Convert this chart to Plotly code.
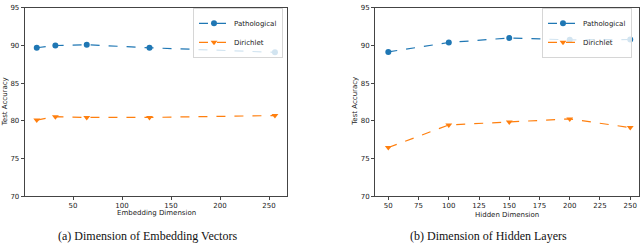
import plotly.graph_objects as go

# Data
emb_dims = [13, 32, 64, 128, 256]
emb_patho = [89.7, 90.0, 90.1, 89.7, 89.1]
emb_diri = [80.1, 80.55, 80.45, 80.45, 80.7]

hid_dims = [50, 100, 150, 200, 250]
hid_patho = [89.15, 90.4, 91.0, 90.75, 90.8]
hid_diri = [76.45, 79.45, 79.85, 80.25, 79.1]

yticks = [70, 75, 80, 85, 90, 95]
emb_xticks = [50, 100, 150, 200, 250]
hid_xticks = [50, 75, 100, 125, 150, 175, 200, 225, 250]

BLUE = "#1f77b4"
ORANGE = "#ff7f0e"
W, H = 640, 248

fig = go.Figure()

def add_series(x, y, name, color, symbol, xa, ya, legend, show):
    fig.add_trace(go.Scatter(
        x=x, y=y, name=name, mode="lines+markers",
        line=dict(color=color, width=1.2, dash="dash"),
        marker=dict(color=color, symbol=symbol, size=6),
        xaxis=xa, yaxis=ya, legend=legend, showlegend=show))

add_series(emb_dims, emb_patho, "Pathological", BLUE, "circle", "x", "y", "legend", True)
add_series(emb_dims, emb_diri, "Dirichlet", ORANGE, "triangle-down", "x", "y", "legend", True)
add_series(hid_dims, hid_patho, "Pathological", BLUE, "circle", "x2", "y2", "legend2", True)
add_series(hid_dims, hid_diri, "Dirichlet", ORANGE, "triangle-down", "x2", "y2", "legend2", True)

ydom = [1 - 198.5 / H, 1 - 4 / H]
axis_common = dict(showgrid=False, zeroline=False, showline=True, linecolor="#444",
                   linewidth=1, mirror=True, ticks="outside", ticklen=3, tickwidth=1,
                   tickcolor="#444", tickfont=dict(family="DejaVu Sans", size=7, color="#222"))

leg_common = dict(xanchor="right", yanchor="top", bgcolor="rgba(255,255,255,0.8)",
                  bordercolor="#d6d6d6", borderwidth=1,
                  font=dict(family="DejaVu Sans", size=7, color="#222"),
                  itemwidth=30, tracegroupgap=0)

fig.update_layout(
    width=W, height=H, margin=dict(l=0, r=0, t=0, b=0),
    paper_bgcolor="white", plot_bgcolor="white",
    xaxis=dict(domain=[24.7 / W, 286.7 / W], range=[0.7, 268], tickvals=emb_xticks,
               anchor="y", **axis_common),
    yaxis=dict(domain=ydom, range=[70, 95], tickvals=yticks, anchor="x", **axis_common),
    xaxis2=dict(domain=[375 / W, 638.7 / W], range=[39, 257], tickvals=hid_xticks,
                anchor="y2", **axis_common),
    yaxis2=dict(domain=ydom, range=[70, 95], tickvals=yticks, anchor="x2", **axis_common),
    legend=dict(x=283 / W, y=1 - 4 / H, **leg_common),
    legend2=dict(x=632 / W, y=1 - 4 / H, **leg_common),
)

sans = dict(family="DejaVu Sans", size=7, color="#222")
serif = dict(family="Liberation Serif", size=12, color="#111")
ann = [
    dict(text="Embedding Dimension", x=156 / W, y=1 - 216 / H, font=sans),
    dict(text="Hidden Dimension", x=507 / W, y=1 - 218 / H, font=sans),
    dict(text="Test Accuracy", x=4.5 / W, y=1 - 101 / H, font=sans, textangle=-90),
    dict(text="Test Accuracy", x=355 / W, y=1 - 101 / H, font=sans, textangle=-90),
    dict(text="(a) Dimension of Embedding Vectors", x=147 / W, y=1 - 240 / H, font=serif),
    dict(text="(b) Dimension of Hidden Layers", x=488 / W, y=1 - 240 / H, font=serif),
]
for a in ann:
    fig.add_annotation(xref="paper", yref="paper", showarrow=False,
                       xanchor="center", yanchor="middle", **a)

fig.write_html(
    "out.html",
    config={"displayModeBar": False},
    post_script="document.body.style.margin='0';document.body.style.padding='0';"
                "document.body.style.overflow='hidden';",
)
